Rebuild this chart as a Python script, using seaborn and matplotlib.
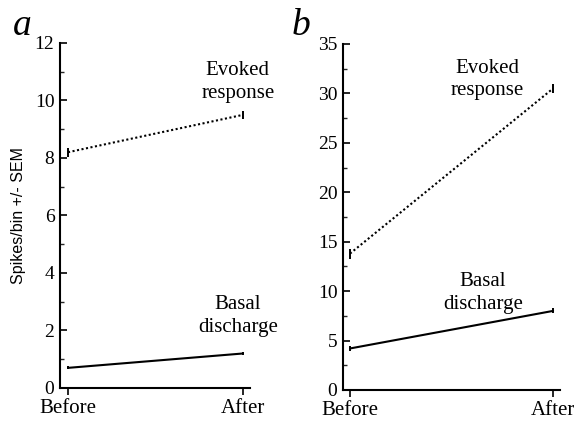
import matplotlib
matplotlib.use('Agg')
import matplotlib.pyplot as plt
import seaborn as sns
from matplotlib.ticker import MultipleLocator

conditions = ['Before', 'After']

# panel a
a_evoked = [8.2, 9.5]
a_evoked_sem = [0.15, 0.15]
a_basal = [0.7, 1.2]
a_basal_sem = [0.05, 0.05]

# panel b
b_evoked = [13.8, 30.5]
b_evoked_sem = [0.5, 0.5]
b_basal = [4.2, 8.0]
b_basal_sem = [0.25, 0.25]

sns.set_theme(style='white')
plt.rcParams['font.family'] = ['Liberation Serif', 'DejaVu Serif']
plt.rcParams['text.color'] = 'black'

fig = plt.figure(figsize=(5.74, 4.25), dpi=100)
ax_a = fig.add_axes([0.1045, 0.0871, 0.331, 0.8118])
ax_b = fig.add_axes([0.5976, 0.0824, 0.378, 0.8141])


def draw_panel(ax, evoked, evoked_sem, basal, basal_sem, ymax, major, minor):
    xs = list(range(len(conditions)))
    sns.lineplot(x=xs, y=evoked, ax=ax, color='black', linestyle=(0, (1, 1.2)), linewidth=1.5)
    sns.lineplot(x=xs, y=basal, ax=ax, color='black', linewidth=1.5)
    ax.errorbar(xs, evoked, yerr=evoked_sem, fmt='none', ecolor='black', elinewidth=1.4)
    ax.errorbar(xs, basal, yerr=basal_sem, fmt='none', ecolor='black', elinewidth=1.4)
    ax.set_ylim(0, ymax)
    ax.yaxis.set_major_locator(MultipleLocator(major))
    ax.yaxis.set_minor_locator(MultipleLocator(minor))
    ax.set_xticks(xs)
    ax.set_xticklabels(conditions, fontsize=15)
    for s in ['top', 'right']:
        ax.spines[s].set_visible(False)
    for s in ['left', 'bottom']:
        ax.spines[s].set_color('black')
        ax.spines[s].set_linewidth(1.5)
    ax.tick_params(axis='y', which='major', direction='in', length=5, width=1.2,
                   labelsize=14, colors='black', left=True, pad=4)
    ax.tick_params(axis='y', which='minor', direction='in', length=3, width=1.0, left=True)
    ax.tick_params(axis='x', direction='out', length=5, width=1.2, labelsize=15,
                   colors='black', bottom=True, pad=3)
    ax.grid(False)


draw_panel(ax_a, a_evoked, a_evoked_sem, a_basal, a_basal_sem, 12, 2, 1)
ax_a.set_xlim(-0.046, 1.04)
draw_panel(ax_b, b_evoked, b_evoked_sem, b_basal, b_basal_sem, 35, 5, 2.5)
ax_b.set_xlim(-0.0345, 1.034)

ax_a.set_ylabel('Spikes/bin +/- SEM', fontsize=11.5, family=['Liberation Sans', 'DejaVu Sans'],
                color='black', labelpad=6)

ax_a.text(0.97, 10.65, 'Evoked\nresponse', fontsize=15, ha='center', va='center', linespacing=1.25)
ax_a.text(0.97, 2.5, 'Basal\ndischarge', fontsize=15, ha='center', va='center', linespacing=1.25)
ax_b.text(0.675, 31.4, 'Evoked\nresponse', fontsize=15, ha='center', va='center', linespacing=1.25)
ax_b.text(0.655, 9.8, 'Basal\ndischarge', fontsize=15, ha='center', va='center', linespacing=1.25)

fig.text(0.038, 1 - 35 / 425, 'a', fontsize=27, style='italic', ha='center', va='baseline')
fig.text(0.525, 1 - 35 / 425, 'b', fontsize=27, style='italic', ha='center', va='baseline')

fig.savefig('out.png', dpi=100)
